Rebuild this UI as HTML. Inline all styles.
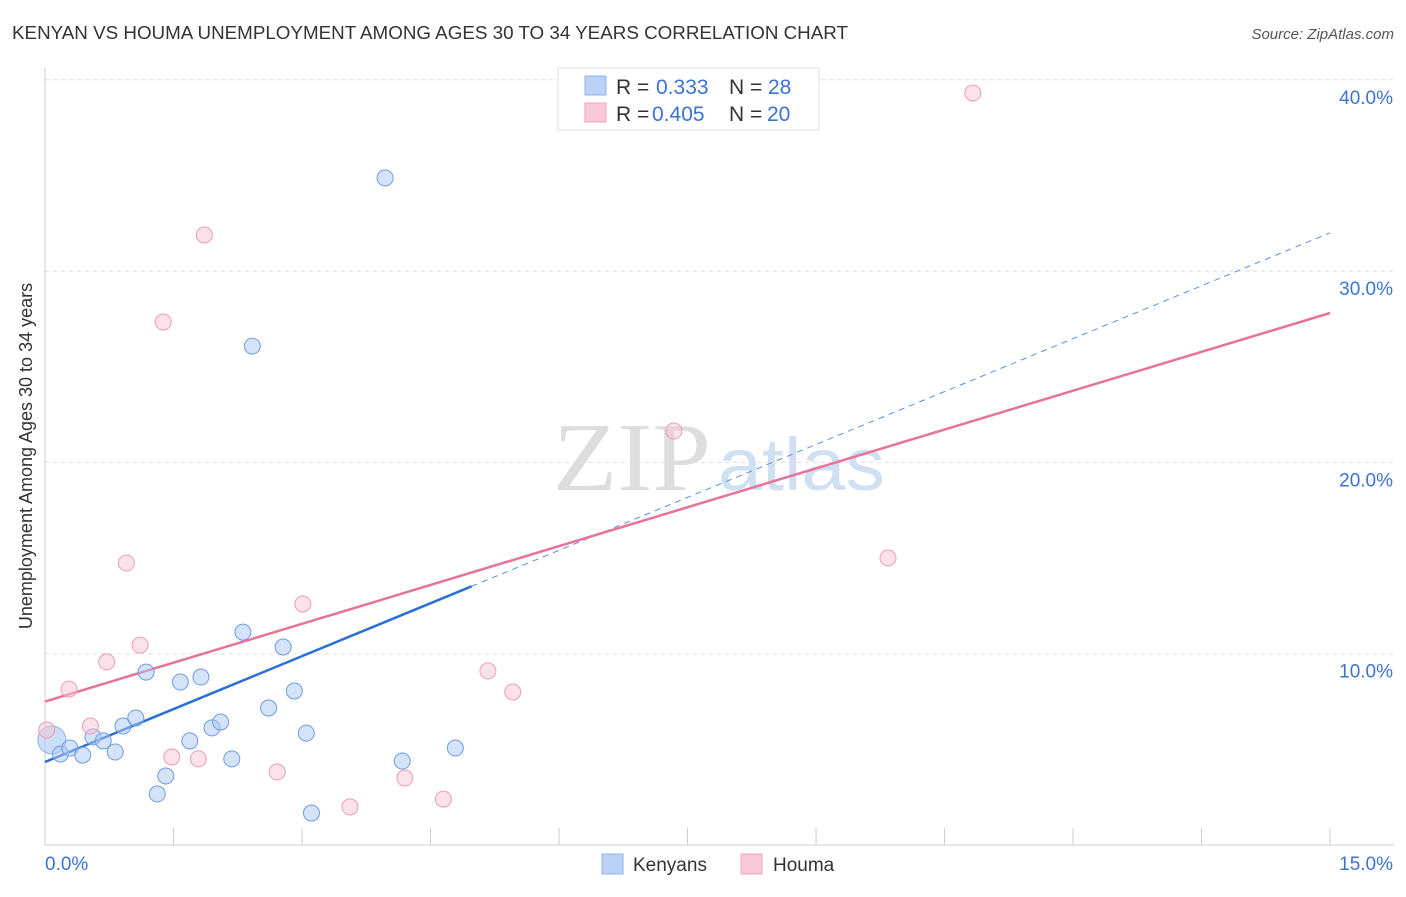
<!DOCTYPE html>
<html><head><meta charset="utf-8"><style>
body{margin:0;background:#fff;font-family:"Liberation Sans",sans-serif;}
svg text{font-family:"Liberation Sans",sans-serif;}
</style></head><body>
<svg id="chart" width="1406" height="892">
<text x="12" y="39" font-size="18" fill="#333" textLength="836" lengthAdjust="spacingAndGlyphs">KENYAN VS HOUMA UNEMPLOYMENT AMONG AGES 30 TO 34 YEARS CORRELATION CHART</text>
<text x="1394" y="39" font-size="15" fill="#555" font-style="italic" text-anchor="end">Source: ZipAtlas.com</text>
<text x="32" y="456" font-size="18" fill="#333" text-anchor="middle" transform="rotate(-90 32 456)">Unemployment Among Ages 30 to 34 years</text>
<g><text x="553" y="490" font-size="98" fill="#ddd" textLength="158" lengthAdjust="spacingAndGlyphs" style="font-family:'Liberation Serif',serif">ZIP</text><text x="718" y="490" font-size="74" fill="#cfe0f3" textLength="167" lengthAdjust="spacingAndGlyphs">atlas</text></g>
<g id="grid"></g><g id="axes"></g><g id="lines"></g><g id="pts"></g>
<g>
<rect x="558" y="68" width="261" height="62" fill="#fff" stroke="#ddd"/>
<rect x="585" y="76" width="21" height="19" fill="#b9d2f5" stroke="#8fb4ea"/>
<rect x="585" y="103" width="21" height="19" fill="#f9c9d7" stroke="#efa1b8"/>
<text y="94" font-size="21" fill="#333"><tspan x="616">R =</tspan><tspan x="656" fill="#3b73d1">0.333</tspan><tspan x="729">N =</tspan><tspan x="768" fill="#3b73d1">28</tspan></text>
<text y="121" font-size="21" fill="#333"><tspan x="616">R =</tspan><tspan x="652" fill="#3b73d1">0.405</tspan><tspan x="729">N =</tspan><tspan x="767" fill="#3b73d1">20</tspan></text>
</g>
<g>
<rect x="602" y="854" width="21" height="20" fill="#b9d2f5" stroke="#8fb4ea"/>
<text x="633" y="871" font-size="19" fill="#333">Kenyans</text>
<rect x="741" y="854" width="21" height="20" fill="#f9c9d7" stroke="#efa1b8"/>
<text x="773" y="871" font-size="19" fill="#333">Houma</text>
</g>
</svg>
<script>
const kenX=[0.18,0.29,0.44,0.56,0.68,0.82,0.91,1.06,1.18,1.31,1.41,1.58,1.69,1.82,1.95,2.05,2.18,2.31,2.42,2.61,2.78,2.91,3.05,3.11,3.97,4.17,4.79];
const kenY=[4.76,5.07,4.70,5.65,5.44,4.86,6.22,6.64,9.04,2.67,3.61,8.52,5.44,8.78,6.12,6.43,4.50,11.13,26.08,7.16,10.35,8.05,5.85,1.67,34.87,4.39,5.07];
const houX=[0.02,0.28,0.53,0.72,0.95,1.11,1.38,1.48,1.79,1.86,2.71,3.01,3.56,4.20,4.65,5.17,5.46,7.34,9.84,10.83];
const houY=[6.01,8.15,6.22,9.57,14.74,10.45,27.34,4.60,4.50,31.89,3.82,12.6,1.99,3.50,2.40,9.10,8.00,21.64,15.0,39.31];
const bigKen=[0.08,5.49];
const kenLine=[4.34,32.0];const kenSolidEnd=4.98;
const houLine=[7.50,27.81];
const yTicks=[10,20,30,40];
const xTickLabels=["0.0%","15.0%"];
const NS="http://www.w3.org/2000/svg";
const sx=v=>45+v*85.67, sy=v=>845-v*19.13;
function el(p,t,a){const e=document.createElementNS(NS,t);for(const k in a)e.setAttribute(k,a[k]);p.appendChild(e);return e;}
const grid=document.getElementById('grid'),axes=document.getElementById('axes'),lines=document.getElementById('lines'),pts=document.getElementById('pts');
yTicks.forEach(t=>{const l=el(grid,'line',{x1:45,x2:1394,y1:sy(t),y2:sy(t),stroke:'#ddd','stroke-dasharray':'4,4'});


const tx=el(axes,'text',{x:1393,y:sy(t)+24,'font-size':19,fill:'#3b73d1','text-anchor':'end'});tx.textContent=t.toFixed(1)+'%';

});
el(axes,'line',{x1:45,x2:45,y1:68,y2:845,stroke:'#ccc'});
el(axes,'line',{x1:45,x2:1394,y1:845,y2:845,stroke:'#ccc'});
for(let i=1;i<=10;i++){el(axes,'line',{x1:sx(i*1.5),x2:sx(i*1.5),y1:828,y2:845,stroke:'#ccc'});}
const t0=el(axes,'text',{x:45,y:870,'font-size':19,fill:'#3b73d1'});t0.textContent=xTickLabels[0];


const t1=el(axes,'text',{x:1393,y:870,'font-size':19,fill:'#3b73d1','text-anchor':'end'});t1.textContent=xTickLabels[1];


const ky=x=>kenLine[0]+(kenLine[1]-kenLine[0])*x/15;
const l1=el(lines,'line',{x1:sx(kenSolidEnd),y1:sy(ky(kenSolidEnd)),x2:sx(15),y2:sy(kenLine[1]),stroke:'#5b8fe0','stroke-width':1,'stroke-dasharray':'6,5'});


const l2=el(lines,'line',{x1:sx(0),y1:sy(houLine[0]),x2:sx(15),y2:sy(houLine[1]),stroke:'#e8739a','stroke-width':2.5});


const l3=el(lines,'line',{x1:sx(0),y1:sy(kenLine[0]),x2:sx(kenSolidEnd),y2:sy(ky(kenSolidEnd)),stroke:'#2a6fd6','stroke-width':2.5});


const bk=el(pts,'circle',{cx:sx(bigKen[0]),cy:sy(bigKen[1]),r:14,fill:'rgba(160,195,240,0.55)',stroke:'#8fb4ea'});


kenX.forEach((x,i)=>{const c=el(pts,'circle',{cx:sx(x),cy:sy(kenY[i]),r:8,fill:'rgba(170,200,242,0.5)',stroke:'#6c9ce6','stroke-width':1});

});
houX.forEach((x,i)=>{const c=el(pts,'circle',{cx:sx(x),cy:sy(houY[i]),r:8,fill:'rgba(248,195,212,0.5)',stroke:'#ee9cb6','stroke-width':1});

});
</script>
</body></html>
